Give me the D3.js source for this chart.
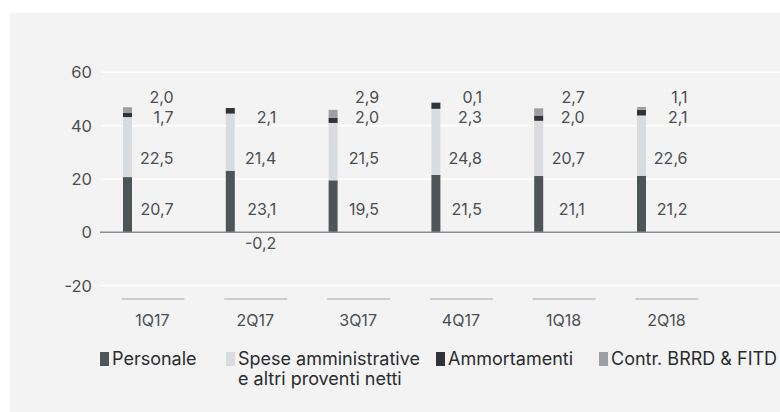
<!DOCTYPE html>
<html lang="it">
<head>
  <meta charset="UTF-8" />
  <title>Costi operativi</title>
  <style>
    body {
      margin: 0;
      background: #ffffff;
      font-family: Inter, "Open Sans", sans-serif;
    }
    svg { display: block; }
  </style>
</head>
<body>
  <svg id="chart" width="780" height="412"></svg>

  <script src="https://cdn.jsdelivr.net/npm/d3@7"></script>
  <script>
    // quarters and the four cost items (EUR mln)
    const quarters = ["1Q17", "2Q17", "3Q17", "4Q17", "1Q18", "2Q18"];
    const personale = [20.7, 23.1, 19.5, 21.5, 21.1, 21.2];
    const spese = [22.5, 21.4, 21.5, 24.8, 20.7, 22.6];
    const ammortamenti = [1.7, 2.1, 2.0, 2.3, 2.0, 2.1];
    const contributi = [2.0, -0.2, 2.9, 0.1, 2.7, 1.1];
    const yTicks = [-20, 0, 20, 40, 60];

    const seriesNames = ["Personale", "Spese amministrative\ne altri proventi netti", "Ammortamenti", "Contr. BRRD & FITD"];
    const seriesValues = [personale, spese, ammortamenti, contributi];
    const colors = ["#4e5557", "#d9dcdf", "#303437", "#9ca0a4"];
    // fixed label rows (in data units), one per series, like the original slide
    const labelRows = [8.6, 27.7, 43.1, 50.6];
    const negRow = -4.0;

    const svg = d3.select("#chart");
    const W = 780, H = 412;

    // grey panel
    svg.append("rect")
      .attr("x", 10).attr("y", 13)
      .attr("width", W - 10).attr("height", H - 13)
      .attr("fill", "#f3f3f3");

    const y = d3.scaleLinear().domain([-20, 60]).range([285.6, 72.3]);
    const x = d3.scalePoint().domain(quarters).range([127.5, 641.5]);
    const fmt = v => d3.format(".1f")(v).replace(".", ",").replace("\u2212", "-");

    // gridlines
    svg.append("g")
      .selectAll("line")
      .data(yTicks.filter(t => t !== 0))
      .join("line")
      .attr("x1", 101).attr("x2", W)
      .attr("y1", d => y(d)).attr("y2", d => y(d))
      .attr("stroke", "#ffffff")
      .attr("stroke-width", 1.5);

    // y axis labels
    svg.append("g")
      .selectAll("text")
      .data(yTicks)
      .join("text")
      .attr("x", 92)
      .attr("y", d => y(d))
      .attr("dy", "0.36em")
      .attr("text-anchor", "end")
      .attr("fill", "#4a4e51")
      .style("font-size", "16.5px")
      .text(d => d);

    // stacked bars
    const stacks = quarters.map((q, i) => {
      let pos = 0, neg = 0;
      return seriesValues.map((vals, s) => {
        const v = vals[i];
        let y0, y1;
        if (v >= 0) { y0 = pos; y1 = pos + v; pos = y1; }
        else { y0 = neg + v; y1 = neg; neg = y0; }
        return { q, s, v, y0, y1 };
      });
    }).flat();

    svg.append("g")
      .selectAll("rect")
      .data(stacks)
      .join("rect")
      .attr("x", d => x(d.q) - 4.5)
      .attr("width", 9)
      .attr("y", d => y(d.y1))
      .attr("height", d => Math.max(0, y(d.y0) - y(d.y1)))
      .attr("fill", d => d.v < 0 ? "#8e9296" : colors[d.s]);

    // zero line
    svg.append("line")
      .attr("x1", 100).attr("x2", W)
      .attr("y1", y(0)).attr("y2", y(0))
      .attr("stroke", "#8a8d90")
      .attr("stroke-width", 1.5);

    // value labels
    svg.append("g")
      .selectAll("text")
      .data(stacks)
      .join("text")
      .attr("x", d => x(d.q) + 46)
      .attr("y", d => y(d.v < 0 ? negRow : labelRows[d.s]))
      .attr("dy", "0.36em")
      .attr("text-anchor", "end")
      .attr("fill", "#4a4e51")
      .style("font-size", "16px")
      .text(d => fmt(d.v));

    // category underlines and labels
    const cat = svg.append("g");
    cat.selectAll("line")
      .data(quarters)
      .join("line")
      .attr("x1", d => x(d) - 6).attr("x2", d => x(d) + 57)
      .attr("y1", 299).attr("y2", 299)
      .attr("stroke", "#a4a7aa")
      .attr("stroke-width", 1);
    cat.selectAll("text")
      .data(quarters)
      .join("text")
      .attr("x", d => x(d) + 25)
      .attr("y", 320)
      .attr("dy", "0.36em")
      .attr("text-anchor", "middle")
      .attr("fill", "#4a4e51")
      .style("font-size", "16px")
      .text(d => d);

    // legend
    const legendX = [100, 226, 436, 599];
    const legend = svg.append("g")
      .selectAll("g")
      .data(seriesNames)
      .join("g")
      .attr("transform", (d, i) => `translate(${legendX[i]},352)`);
    legend.append("rect")
      .attr("width", 9).attr("height", 14)
      .attr("fill", (d, i) => colors[i]);
    legend.append("text")
      .attr("fill", "#2a2c2e")
      .style("font-size", "18px")
      .each(function (d) {
        d.split("\n").forEach((line, k) => {
          d3.select(this).append("tspan")
            .attr("x", 12)
            .attr("y", 7 + k * 20)
            .attr("dy", "0.36em")
            .text(line);
        });
      });
  </script>
</body>
</html>
